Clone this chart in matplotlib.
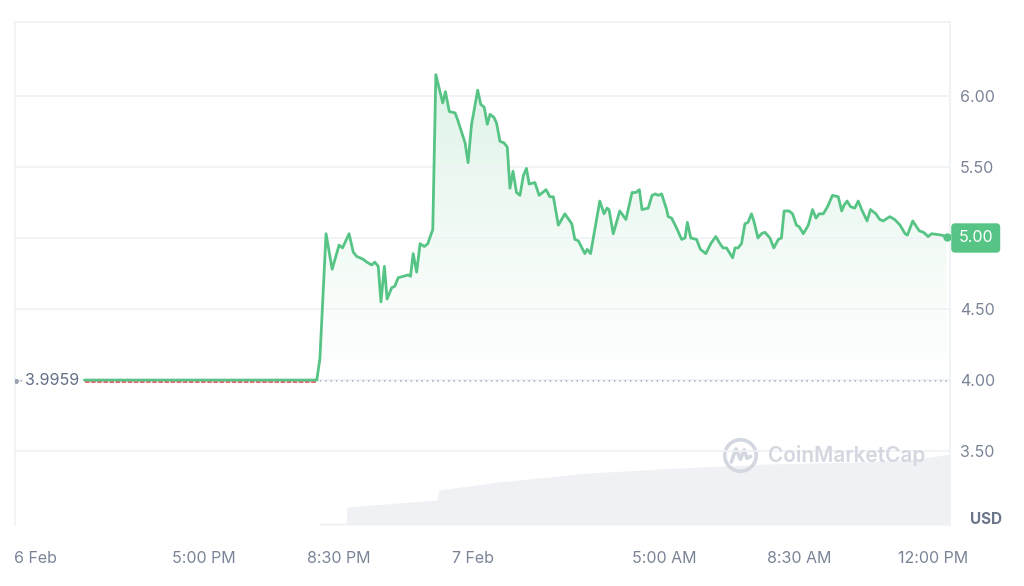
import numpy as np
import matplotlib
matplotlib.use('Agg')
import matplotlib.pyplot as plt
from matplotlib.patches import Polygon, Circle
from matplotlib.colors import to_rgb
import matplotlib.transforms as mtransforms

# horas desde el 6 Feb 12:00 PM
horas = [1.90, 7.94, 8.02, 8.18, 8.34, 8.52, 8.61, 8.78, 8.89, 8.98, 9.15, 9.24, 9.37, 9.45,
         9.54, 9.61, 9.70, 9.77, 9.89, 9.97, 10.06, 10.32, 10.38, 10.45, 10.54, 10.63, 10.74,
         10.83, 10.96, 11.04, 11.22, 11.29, 11.39, 11.54, 11.61, 11.80, 11.88, 11.97, 12.13,
         12.21, 12.30, 12.38, 12.45, 12.55, 12.62, 12.71, 12.81, 12.90, 12.97, 13.05, 13.14,
         13.23, 13.32, 13.40, 13.47, 13.62, 13.73, 13.91, 14.01, 14.10, 14.23, 14.40, 14.58,
         14.66, 14.75, 14.92, 14.98, 15.07, 15.31, 15.42, 15.50, 15.55, 15.66, 15.83, 15.99,
         16.15, 16.25, 16.34, 16.41, 16.57, 16.67, 16.76, 16.83, 16.92, 17.05, 17.09, 17.18,
         17.31, 17.44, 17.53, 17.59, 17.68, 17.83, 17.93, 18.07, 18.20, 18.33, 18.44, 18.52,
         18.61, 18.77, 18.83, 18.91, 19.00, 19.09, 19.17, 19.26, 19.32, 19.43, 19.52, 19.61,
         19.74, 19.84, 19.96, 20.04, 20.11, 20.24, 20.33, 20.43, 20.50, 20.61, 20.74, 20.85,
         20.94, 21.02, 21.13, 21.24, 21.37, 21.52, 21.61, 21.67, 21.75, 21.84, 21.95, 22.04,
         22.13, 22.27, 22.36, 22.50, 22.60, 22.69, 22.86, 22.99, 23.13, 23.26, 23.32, 23.46,
         23.63, 23.74, 23.86, 23.95, 24.21, 24.34]
precio = [4.00, 4.00, 4.15, 5.03, 4.78, 4.95, 4.93, 5.03, 4.90, 4.87, 4.85, 4.83, 4.81, 4.83,
          4.80, 4.55, 4.80, 4.57, 4.65, 4.66, 4.72, 4.74, 4.73, 4.89, 4.76, 4.96, 4.94,
          4.96, 5.06, 6.15, 5.95, 6.03, 5.89, 5.88, 5.83, 5.67, 5.53, 5.80, 6.04,
          5.94, 5.92, 5.80, 5.87, 5.85, 5.81, 5.68, 5.67, 5.64, 5.35, 5.47, 5.32,
          5.30, 5.44, 5.49, 5.38, 5.39, 5.30, 5.34, 5.29, 5.29, 5.09, 5.17, 5.10,
          4.99, 4.98, 4.89, 4.92, 4.89, 5.26, 5.17, 5.21, 5.20, 5.03, 5.19, 5.13,
          5.32, 5.32, 5.34, 5.20, 5.21, 5.30, 5.31, 5.30, 5.31, 5.20, 5.15, 5.14,
          5.07, 4.99, 5.00, 5.11, 5.00, 4.99, 4.92, 4.89, 4.96, 5.01, 4.96, 4.93,
          4.93, 4.86, 4.93, 4.93, 4.96, 5.10, 5.11, 5.17, 5.12, 5.00, 5.03, 5.04,
          5.00, 4.93, 4.99, 5.00, 5.19, 5.19, 5.17, 5.09, 5.08, 5.03, 5.09, 5.20,
          5.14, 5.17, 5.17, 5.22, 5.30, 5.29, 5.19, 5.23, 5.26, 5.22, 5.21, 5.26,
          5.20, 5.12, 5.20, 5.17, 5.13, 5.12, 5.15, 5.13, 5.09, 5.03, 5.02, 5.12,
          5.05, 5.04, 5.01, 5.03, 5.02, 5.01]

# tramo por debajo del precio de referencia (rojo)
horas_rojo = [1.90, 7.94]
precio_rojo = [3.988, 3.988]

# volumen (acumulado, miles)
horas_vol = [8.02, 8.71, 8.72, 11.07, 11.12, 12.68, 15.03, 17.37, 19.69, 22.03, 23.60, 24.43]
volumen = [20, 20, 180, 250, 350, 430, 520, 570, 610, 630, 660, 710]

precio_ref = 3.9959
precio_actual = 5.00

ticks_x = [0.6, 5, 8.5, 12, 17, 20.5, 24]
etiquetas_x = ['6 Feb', '5:00 PM', '8:30 PM', '7 Feb', '5:00 AM', '8:30 AM', '12:00 PM']
ticks_y = [3.5, 4.0, 4.5, 5.0, 5.5, 6.0]

verde = '#56c485'
gris_txt = '#7b8497'
gris_linea = '#eff2f5'

plt.rcParams['font.family'] = ['Inter', 'DejaVu Sans']

fig = plt.figure(figsize=(10.24, 5.86), dpi=100)
ax = fig.add_axes([15 / 1024, 1 - 525 / 586, 935 / 1024, 503 / 586])
ax2 = ax.twinx()
ax.set_zorder(ax2.get_zorder() + 1)
ax.patch.set_visible(False)

x0, x1 = 0.08, 24.43
y0, y1 = 2.98, 6.52

# volumen al fondo
ax2.fill_between(horas_vol, volumen, 0, color='#eff1f5', lw=0)
ax2.set_ylim(0, 5030)
ax2.set_yticks([])
for s in ax2.spines.values():
    s.set_visible(False)

# relleno degradado bajo la linea
t = np.array(horas)
p = np.array(precio)
verts = np.column_stack([np.r_[t[0], t, t[-1]], np.r_[y0, p, y0]])
poly = Polygon(verts, closed=True, fc='none', ec='none')
ax.add_patch(poly)
yy = np.linspace(6.2, y0, 300)
alfa = 0.2 * np.clip((yy - 3.8) / (6.2 - 3.8), 0, 1) ** 1.3
rgba = np.zeros((300, 1, 4))
rgba[..., :3] = to_rgb(verde)
rgba[:, 0, 3] = alfa
im = ax.imshow(rgba, extent=[t[0], t[-1], y0, 6.2], aspect='auto', origin='upper', zorder=1)
im.set_clip_path(poly)

# lineas
ax.axhline(precio_ref, color='#a7adb9', lw=1.1, ls=(0, (1, 2.5)), zorder=2)
ax.plot(horas_rojo, precio_rojo, color='#ea3943', lw=1.1, ls=(0, (3, 1)), zorder=3)
ax.plot(horas, precio, color=verde, lw=2.0, zorder=4, solid_joinstyle='round')
ax.plot(horas[-1], precio[-1], 'o', color=verde, ms=5, zorder=5)
ax.plot(0.11, precio_ref, 'o', color='#9aa1ae', ms=2.5, zorder=5)
ax.text(0.34, precio_ref, '3.9959', ha='left', va='center', fontsize=11.5, color='#616e85',
        bbox=dict(boxstyle='square,pad=0.1', fc='white', ec='none'), zorder=6)

ax.set_xlim(x0, x1)
ax.set_ylim(y0, y1)
ax.set_xticks(ticks_x)
ax.set_xticklabels(etiquetas_x)
ax.set_yticks(ticks_y)
ax.yaxis.set_major_formatter(matplotlib.ticker.FormatStrFormatter('%.2f'))
ax.yaxis.tick_right()
ax.tick_params(axis='y', length=0, pad=7, labelsize=11.5, labelcolor=gris_txt)
ax.tick_params(axis='x', length=0, pad=19, labelsize=11.5, labelcolor=gris_txt)
ax.grid(axis='y', color=gris_linea, lw=1.2)
for nombre, s in ax.spines.items():
    s.set_color(gris_linea)
    s.set_linewidth(1.2)
ax.spines['bottom'].set_visible(False)

# etiqueta del precio actual
trans = mtransforms.blended_transform_factory(ax.transAxes, ax.transData)
ax.text(1.009, precio_actual, '5.00', transform=trans, ha='left', va='center',
        fontsize=11.5, color='white', zorder=10, clip_on=False,
        bbox=dict(boxstyle='round,pad=0.45,rounding_size=0.25', fc=verde, ec='none'))

fig.text(970 / 1024, 1 - 520 / 586, 'USD', fontsize=11, fontweight='bold', color='#6b768b',
         ha='left', va='center')

# marca de agua
fig.text(768 / 1024, 1 - 456 / 586, 'CoinMarketCap', fontsize=15, fontweight='semibold',
         color='#d3d7df', ha='left', va='center', zorder=20)
lax = fig.add_axes([722 / 1024, 1 - 474 / 586, 37 / 1024, 37 / 586])
lax.set_xlim(-1, 1)
lax.set_ylim(-1, 1)
lax.set_aspect('equal')
lax.axis('off')
lax.add_patch(Circle((0, 0), 0.85, fill=False, ec='#d3d7df', lw=2.6))
lax.plot([-0.5, -0.25, 0.0, 0.2, 0.35, 0.55], [-0.35, 0.35, -0.2, 0.3, -0.15, -0.05],
         color='#d3d7df', lw=2.6, solid_capstyle='round', solid_joinstyle='round')

fig.savefig('out.png', dpi=100, facecolor='white')
